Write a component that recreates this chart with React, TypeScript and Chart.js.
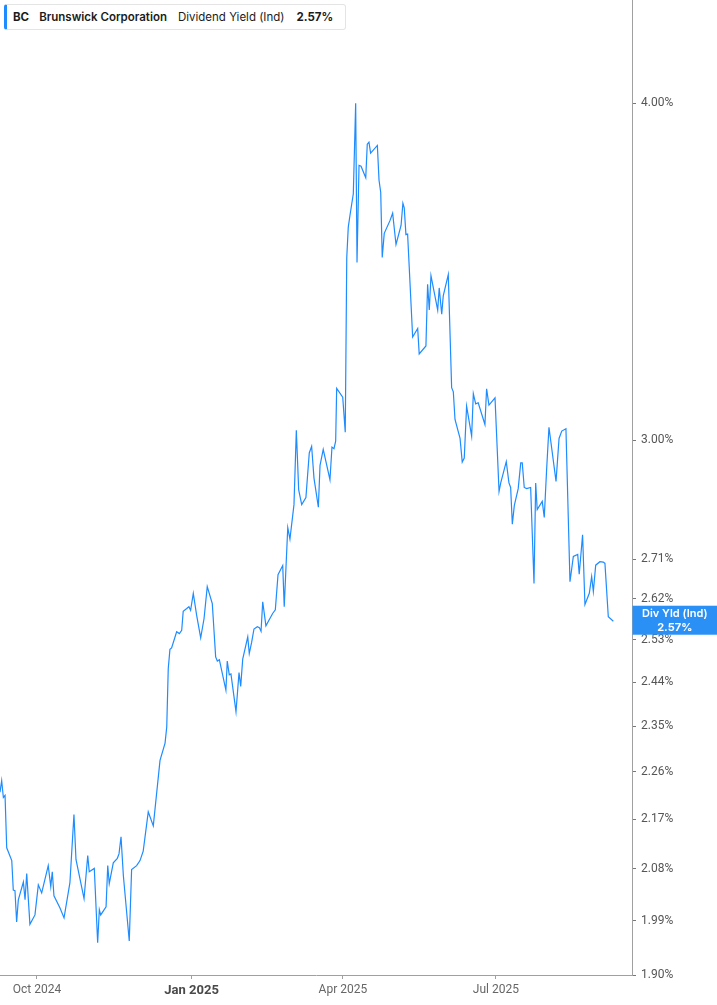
import React, { useRef, useEffect } from 'react';
import { Chart, registerables } from 'chart.js';

Chart.register(...registerables);

// ============================================
// DATA
// ============================================

// days counted from 2024-09-09 (left edge of the plot)
const dayOffsets = [
  0, 1.0, 2.0, 3.0, 4.0, 7.0, 7.9, 8.9, 9.9, 10.9, 13.9, 14.9, 15.9, 17.8, 20.8, 22.8, 24.8, 28.7, 30.2, 31.1,
  32.1, 35.7, 38.1, 41.6, 44.0, 45.2, 50.0, 52.2, 53.1, 56.1, 58.1, 59.1, 59.9, 63.1, 64.1, 65.0, 67.4, 69.8, 70.8, 72.0,
  73.4, 76.9, 78.3, 81.3, 83.3, 85.2, 88.2, 91.2, 95.2, 98.2, 99.2, 100.1, 101.1, 102.1, 105.1, 106.7, 108.1, 109.0, 111.1, 112.4,
  113.4, 115.0, 117.0, 119.4, 121.4, 123.3, 126.3, 128.3, 129.3, 130.5, 134.4, 135.2, 136.4, 137.4, 140.4, 142.2, 143.2, 144.4, 147.4, 148.3,
  149.7, 151.1, 153.1, 154.3, 155.3, 156.3, 158.2, 162.2, 163.8, 165.4, 168.2, 169.1, 171.2, 172.5, 174.9, 176.3, 177.7, 179.5, 182.0, 184.0,
  185.4, 186.8, 189.4, 190.4, 192.3, 196.3, 197.5, 198.7, 199.7, 200.3, 203.9, 205.4, 206.3, 207.2, 208.2, 210.2, 211.6, 212.4, 213.6, 214.8,
  217.6, 218.5, 219.5, 220.5, 224.5, 225.5, 226.5, 227.4, 228.6, 232.0, 233.6, 235.6, 238.6, 239.7, 240.5, 241.5, 242.5, 245.5, 248.5, 249.4,
  253.4, 254.4, 255.4, 256.4, 260.4, 261.3, 262.8, 263.7, 266.7, 268.7, 269.7, 270.7, 273.7, 275.0, 276.2, 277.6, 280.6, 281.6, 283.0, 284.5,
  288.5, 289.5, 290.9, 294.5, 296.9, 297.9, 301.2, 302.8, 303.8, 304.8, 306.0, 308.3, 309.8, 310.7, 311.9, 313.3, 315.7, 317.7, 318.7, 319.6,
  322.6, 323.8, 325.2, 326.6, 330.8, 332.6, 334.2, 336.7, 339.1, 341.1, 343.7, 344.6, 346.6, 348.0, 350.6, 352.0, 353.0, 354.4, 356.9, 358.9,
  359.9, 361.9, 364.9,
];

const yieldValues = [
  2.221, 2.243, 2.211, 2.215, 2.118, 2.095, 2.043, 2.042, 1.988, 2.026, 2.057, 2.026, 2.072, 1.984, 2.000, 2.052, 2.038, 2.086, 2.049, 2.075,
  2.033, 2.012, 1.995, 2.056, 2.179, 2.097, 2.028, 2.104, 2.075, 2.081, 1.953, 2.009, 2.000, 2.014, 2.086, 2.054, 2.091, 2.099, 2.107, 2.138,
  2.068, 1.956, 2.079, 2.086, 2.095, 2.112, 2.184, 2.158, 2.282, 2.316, 2.348, 2.468, 2.509, 2.512, 2.547, 2.543, 2.550, 2.592, 2.598, 2.602,
  2.594, 2.632, 2.583, 2.534, 2.576, 2.647, 2.609, 2.493, 2.484, 2.487, 2.423, 2.484, 2.455, 2.457, 2.379, 2.460, 2.431, 2.488, 2.536, 2.500,
  2.524, 2.553, 2.558, 2.556, 2.548, 2.613, 2.560, 2.587, 2.595, 2.674, 2.695, 2.602, 2.784, 2.757, 2.839, 3.025, 2.875, 2.839, 2.856, 2.967,
  2.984, 2.904, 2.833, 2.936, 2.976, 2.900, 2.982, 2.978, 2.997, 3.135, 3.112, 3.020, 3.506, 3.598, 3.634, 3.702, 3.999, 3.491, 3.793, 3.790,
  3.753, 3.862, 3.869, 3.833, 3.858, 3.745, 3.707, 3.506, 3.579, 3.618, 3.641, 3.545, 3.603, 3.672, 3.658, 3.575, 3.577, 3.276, 3.300, 3.229,
  3.251, 3.427, 3.352, 3.452, 3.352, 3.416, 3.340, 3.393, 3.455, 3.137, 3.126, 3.053, 3.004, 2.944, 2.954, 3.088, 3.010, 3.121, 3.094, 3.097,
  3.040, 3.134, 3.091, 3.110, 2.871, 2.892, 2.945, 2.892, 2.881, 2.792, 2.837, 2.878, 2.942, 2.942, 2.881, 2.878, 2.881, 2.654, 2.892, 2.827,
  2.847, 2.808, 2.925, 3.033, 2.896, 3.004, 3.023, 3.029, 2.658, 2.716, 2.721, 2.675, 2.767, 2.607, 2.632, 2.670, 2.636, 2.696, 2.704, 2.703,
  2.700, 2.580, 2.570,
];

const xTickDays = [22, 114, 204, 295];
const xTickLabels = ['Oct 2024', 'Jan 2025', 'Apr 2025', 'Jul 2025'];
const boldTickDay = 114;

const yTickValues = [1.90, 1.99, 2.08, 2.17, 2.26, 2.35, 2.44, 2.53, 2.62, 2.71, 3.00, 4.00];

const lastYield = 2.57;
const ticker = 'BC';
const companyName = 'Brunswick Corporation';
const metricName = 'Dividend Yield (Ind)';

const LINE_BLUE = '#1e8cff';
const AXIS_GRAY = '#a0a0a0';

// ============================================
// COMPONENT
// ============================================

const App: React.FC = () => {
  const chartRef = useRef<HTMLCanvasElement>(null);
  const chartInstanceRef = useRef<Chart | null>(null);

  useEffect(() => {
    if (!chartRef.current) return;
    const ctx = chartRef.current.getContext('2d');
    if (!ctx) return;

    if (chartInstanceRef.current) {
      chartInstanceRef.current.destroy();
    }

    const points = dayOffsets.map((d, i) => ({ x: d, y: yieldValues[i] }));

    // current value tag on the right axis
    const lastValueTag = {
      id: 'lastValueTag',
      afterDraw(chart: any) {
        const c = chart.ctx;
        const yScale = chart.scales.y;
        const yPix = yScale.getPixelForValue(lastYield) - 1;
        const left = chart.chartArea.right + 0.5;
        const right = chart.width;
        const h = 29;
        c.save();
        c.fillStyle = '#2a90f5';
        c.fillRect(left, yPix - h / 2, right - left, h);
        c.fillStyle = '#ffffff';
        c.textAlign = 'center';
        c.textBaseline = 'middle';
        c.font = '600 11px Inter, sans-serif';
        const cx = (left + right) / 2;
        c.fillText('Div Yld (Ind)', cx, yPix - 6.5);
        c.font = 'bold 11px Inter, sans-serif';
        c.fillText(`${lastYield.toFixed(2)}%`, cx, yPix + 7);
        c.restore();
      },
    };

    const noScalePadding = (scale: any) => {
      scale.paddingTop = 0;
      scale.paddingBottom = 0;
      scale.paddingLeft = 0;
      scale.paddingRight = 0;
    };

    chartInstanceRef.current = new Chart(ctx, {
      type: 'line',
      data: {
        datasets: [
          {
            label: metricName,
            data: points,
            borderColor: LINE_BLUE,
            borderWidth: 1.2,
            pointRadius: 0,
            tension: 0,
            fill: false,
          },
        ],
      },
      options: {
        responsive: true,
        maintainAspectRatio: false,
        animation: false,
        layout: { padding: 0, autoPadding: false },
        plugins: {
          legend: { display: false },
          tooltip: { enabled: false },
        },
        scales: {
          x: {
            type: 'linear',
            min: 0,
            max: 376,
            bounds: 'data',
            afterBuildTicks: (scale: any) => {
              scale.ticks = xTickDays.map((value) => ({ value }));
            },
            afterFit: (scale: any) => {
              scale.height = 30;
              noScalePadding(scale);
            },
            grid: {
              display: true,
              drawOnChartArea: false,
              drawTicks: true,
              tickLength: 4,
              tickColor: AXIS_GRAY,
            },
            border: { display: true, color: AXIS_GRAY, width: 1 },
            ticks: {
              autoSkip: false,
              maxRotation: 0,
              padding: 4,
              callback: (value: any) => {
                const idx = xTickDays.indexOf(Number(value));
                return idx >= 0 ? xTickLabels[idx] : '';
              },
              font: (c: any) =>
                c.tick && c.tick.value === boldTickDay
                  ? { family: 'Roboto, sans-serif', size: 13, weight: 'bold' }
                  : { family: 'Roboto, sans-serif', size: 12 },
              color: (c: any) => (c.tick && c.tick.value === boldTickDay ? '#4a4a4a' : '#666666'),
            },
          },
          y: {
            type: 'logarithmic',
            position: 'right',
            min: 1.9,
            max: 4.368,
            bounds: 'data',
            afterBuildTicks: (scale: any) => {
              scale.ticks = yTickValues.map((value) => ({ value }));
            },
            afterFit: (scale: any) => {
              scale.width = 85;
              noScalePadding(scale);
            },
            grid: {
              display: true,
              drawOnChartArea: false,
              drawTicks: true,
              tickLength: 4,
              tickColor: '#777777',
            },
            border: { display: true, color: AXIS_GRAY, width: 1 },
            ticks: {
              autoSkip: false,
              padding: 5,
              color: '#555555',
              font: { family: 'Roboto, sans-serif', size: 12 },
              callback: (value: any) => `${Number(value).toFixed(2)}%`,
            },
          },
        },
      },
      plugins: [lastValueTag],
    });

    return () => {
      if (chartInstanceRef.current) {
        chartInstanceRef.current.destroy();
        chartInstanceRef.current = null;
      }
    };
  }, []);

  return (
    <div
      style={{
        position: 'fixed',
        left: 0,
        top: 0,
        width: 717,
        height: 1005,
        background: '#ffffff',
        overflow: 'hidden',
      }}
    >
      <canvas ref={chartRef} />

      {/* Header */}
      <div
        style={{
          position: 'absolute',
          left: 4,
          top: 4,
          height: 26,
          boxSizing: 'border-box',
          display: 'flex',
          alignItems: 'center',
          gap: 10,
          padding: '0 12px 0 6px',
          background: '#ffffff',
          border: '1px solid #e4e4e4',
          borderLeft: `3px solid ${LINE_BLUE}`,
          borderRadius: 3,
          fontFamily: 'Inter, sans-serif',
          fontSize: 11.5,
          color: '#1c1c1c',
          whiteSpace: 'nowrap',
        }}
      >
        <span style={{ fontWeight: 700 }}>{ticker}</span>
        <span style={{ fontWeight: 600 }}>{companyName}</span>
        <span style={{ fontWeight: 400, marginLeft: 1 }}>{metricName}</span>
        <span style={{ fontWeight: 700, marginLeft: 2 }}>{lastYield.toFixed(2)}%</span>
      </div>
    </div>
  );
};

export default App;
